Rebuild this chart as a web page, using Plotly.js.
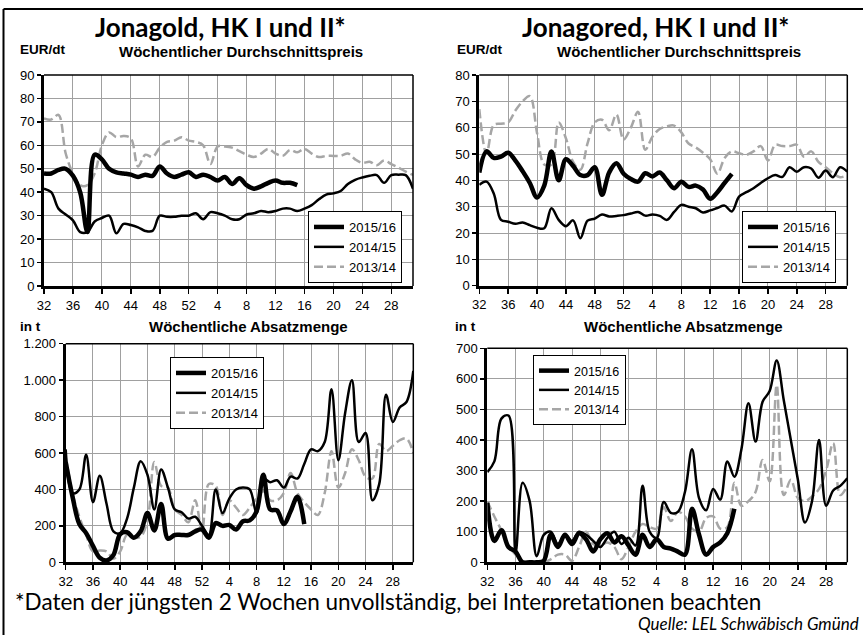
<!DOCTYPE html>
<html>
<head>
<meta charset="utf-8">
<script src="https://cdn.plot.ly/plotly-3.0.1.min.js"></script>
<style>html,body{margin:0;padding:0;background:#fff;}#chart{width:863px;height:635px;}</style>
</head>
<body>
<div id="chart"></div>
<script>
// Calendar weeks of the marketing season (x categories)
const weeks = [32,33,34,35,36,37,38,39,40,41,42,43,44,45,46,47,48,49,50,51,52,
               1,2,3,4,5,6,7,8,9,10,11,12,13,14,15,16,17,18,19,20,21,22,23,24,25,26,27,28,29,30,31];
const tickWeeks = ['32','36','40','44','48','52','4','8','12','16','20','24','28'];
const seasons = ['2015/16','2014/15','2013/14'];

// Jonagold – weekly average price (EUR/dt)
const jgPrice1516 = [48,48,49.5,50,47,40,23,56,54,50,48.5,48,47.5,46.5,47.5,47,51,48,46.5,47.5,48.5,46.5,47.5,46.5,45,46.5,43.5,46,43,41.5,42.5,44,45,44,44,43];
const jgPrice1415 = [41.5,40,33,30.5,28,23,23,27.5,29,30,22.5,26.5,26,25,23.5,23.5,30,29.5,29.5,30,30,31,28.5,31.5,31,30,28.5,28.5,30.5,31,32,31.5,32,33,33,32,33,34.5,37,39,39.5,40.5,43.5,45.3,46.3,47,47.3,44,47.3,47.5,47.3,41.5];
const jgPrice1314 = [71.5,71,73,56.5,48,43,43,48,60,65.5,63.5,64,63,51,56,55,59,61.5,62,63.5,62,61.5,60,52,59.5,59.5,59,57.5,56,55,56.5,58.5,56.5,55.5,58,57,58.5,56.5,55,55.5,55.5,55.5,56.5,54,52.5,53,51.5,53.5,52,50.5,48.8,47.4];

// Jonagored – weekly average price (EUR/dt)
const jrPrice1516 = [43,51,48.5,49,50.5,47.5,43.5,39,33.5,38,51,40,48,45.5,42,42,45,34.5,43,46.5,42.5,40.5,39.5,42.7,41.5,43,40,37,39.5,37.5,38,36.5,33,35.5,39,42.5];
const jrPrice1415 = [38.3,39.5,35,25,24.3,23.5,24,23,22,21.8,29.4,25,22.6,24.8,18,24.7,25.5,27,26.3,26.5,26.8,27.4,28,26.6,27,26.5,25,28,30.7,30,29.4,27.8,28.6,29.5,30.4,28.2,33.8,35.5,37,39,40.8,42,41.3,45,43.3,45,44.5,41,43.7,41.2,45,43.3];
const jrPrice1314 = [67,50,61,61.5,62,66.5,70,72,58,46,46,62,56,47,44,54,62,63,59,65,55.5,60,66,51.6,56.6,59.5,60.5,60.8,58.2,54,52.5,50.5,48,42.5,48.5,51,50.3,49.7,51,53,47.5,53.5,53,53,53.5,49,51,47,45,42.7,41.2,42];

// Jonagold – weekly sales volume (t)
const jgSales1516 = [550,360,210,160,90,25,10,40,155,165,135,170,270,175,320,130,150,150,150,170,180,135,215,200,205,180,225,230,280,480,290,285,210,280,360,210];
const jgSales1415 = [620,380,400,590,330,475,320,170,160,240,410,555,480,290,510,410,290,275,240,250,200,150,400,270,350,400,410,400,270,460,440,450,410,470,460,540,620,610,660,950,560,820,1000,660,710,340,430,920,770,850,880,1050];
const jgSales1314 = [580,380,250,150,60,65,60,20,60,150,135,140,230,550,420,410,290,260,220,340,170,430,420,260,340,300,260,300,350,390,340,340,380,490,380,330,290,260,380,610,410,490,620,560,470,460,650,610,640,670,680,600];

// Jonagored – weekly sales volume (t)
const jrSales1516 = [195,70,105,50,35,0,0,0,5,90,50,90,60,95,75,35,75,95,65,85,55,25,90,50,75,50,45,35,25,175,90,25,50,65,95,175];
const jrSales1415 = [295,330,470,480,30,260,200,20,90,100,60,90,70,100,90,70,50,80,100,60,80,55,250,100,80,197,162,165,230,370,210,170,240,205,330,280,370,520,395,525,560,660,530,400,270,130,200,400,185,235,250,275];
const jrSales1314 = [200,150,105,55,25,5,0,0,0,10,25,25,5,50,100,60,55,65,50,10,50,100,125,115,110,180,135,165,150,110,100,145,150,110,115,260,185,200,230,335,265,580,220,270,210,200,215,240,300,390,220,250];

const cats = weeks.map(String);
const ARIAL = 'Arial, "Liberation Sans", sans-serif';
const HUMAN = 'Lato, "Open Sans", sans-serif';

const styles = [
  {color:'#000000', width:4.5, dash:'solid'},
  {color:'#000000', width:2.5, dash:'solid'},
  {color:'#a6a6a6', width:2.5, dash:'9px,4px'}
];

function mk(vals, sIdx, ax, leg){
  return {
    type:'scatter', mode:'lines',
    x: cats.slice(0, vals.length), y: vals,
    name: seasons[sIdx],
    xaxis: 'x'+ax, yaxis: 'y'+ax,
    legend: leg, legendrank: sIdx+1,
    line: Object.assign({shape:'spline', smoothing:1}, styles[sIdx]),
    hoverinfo:'skip'
  };
}

const traces = [
  mk(jgPrice1314,2,'', 'legend'), mk(jgPrice1415,1,'', 'legend'), mk(jgPrice1516,0,'', 'legend'),
  mk(jrPrice1314,2,'2','legend2'), mk(jrPrice1415,1,'2','legend2'), mk(jrPrice1516,0,'2','legend2'),
  mk(jgSales1314,2,'3','legend3'), mk(jgSales1415,1,'3','legend3'), mk(jgSales1516,0,'3','legend3'),
  mk(jrSales1314,2,'4','legend4'), mk(jrSales1415,1,'4','legend4'), mk(jrSales1516,0,'4','legend4')
];

const W = 863, H = 635;
const px = v => v / W, py = v => 1 - v / H;

function xax(x0, x1, anchor, fs){
  return {
    domain:[px(x0), px(x1)], anchor: anchor,
    type:'category', categoryorder:'array', categoryarray: cats,
    range:[0, 51], tickmode:'array', tickvals: tickWeeks, ticktext: tickWeeks,
    ticks:'outside', ticklen:5, tickwidth:1.5, tickcolor:'#000',
    showgrid:true, gridcolor:'#a0a0a0', gridwidth:1,
    showline:true, linecolor:'#000', linewidth:3, zeroline:false,
    tickfont:{family:ARIAL, size:fs, color:'#000'}
  };
}
function yax(y0, y1, anchor, max, dtick, fs, ttext){
  const vals = [];
  for (let v = 0; v <= max; v += dtick) vals.push(v);
  return {
    domain:[py(y1), py(y0)], anchor: anchor,
    range:[0, max], tickmode:'array', tickvals: vals,
    ticktext: ttext ? ttext : vals.map(String),
    ticks:'outside', ticklen:4, tickwidth:1.5, tickcolor:'#000',
    showgrid:true, gridcolor:'#a0a0a0', gridwidth:1,
    showline:true, linecolor:'#000', linewidth:3, zeroline:false,
    tickfont:{family:ARIAL, size:fs, color:'#000'}
  };
}

const salesLeftText = ['0','200','400','600','800','1.000','1.200'];

function legendBox(x, y, fs){
  return {x:px(x), y:py(y), xanchor:'left', yanchor:'top', xref:'paper', yref:'paper',
          bgcolor:'#fff', bordercolor:'#000', borderwidth:1,
          font:{family:ARIAL, size:fs, color:'#000'}, tracegroupgap:0};
}

function frameShapes(ax){
  const xr = 'x'+ax+' domain', yr = 'y'+ax+' domain';
  return [
    {type:'line', xref:xr, yref:yr, x0:0, x1:1, y0:1, y1:1, line:{color:'#000', width:1.5}},
    {type:'line', xref:xr, yref:yr, x0:1, x1:1, y0:0, y1:1, line:{color:'#000', width:1.5}}
  ];
}

function ann(text, x, y, font, xanchor, yanchor){
  return {text:text, x:px(x), y:py(y), xref:'paper', yref:'paper', showarrow:false,
          xanchor:xanchor||'center', yanchor:yanchor||'middle', font:font};
}

const unitFont = {family:ARIAL, size:13.5, color:'#000', weight:'bold'};
const subFont = {family:ARIAL, size:15, color:'#000', weight:'bold'};
const titleFont = {family:HUMAN, size:26, color:'#000', weight:'bold'};

const layout = {
  width:W, height:H, margin:{l:0,r:0,t:0,b:0},
  paper_bgcolor:'#fff', plot_bgcolor:'#fff',
  hovermode:false,
  xaxis: xax(44, 413, 'y', 13),
  yaxis: yax(75, 286, 'x', 90, 10, 13),
  xaxis2: xax(479.3, 847.3, 'y2', 13),
  yaxis2: yax(75, 285.7, 'x2', 80, 10, 13),
  xaxis3: xax(65.7, 413.3, 'y3', 13),
  yaxis3: yax(343.7, 562.3, 'x3', 1200, 200, 13, salesLeftText),
  xaxis4: xax(487.3, 847.3, 'y4', 13),
  yaxis4: yax(348.3, 562.3, 'x4', 700, 100, 13),
  legend: legendBox(308, 211, 13),
  legend2: legendBox(742, 211, 13),
  legend3: legendBox(170, 357, 13),
  legend4: legendBox(533, 355, 12.5),
  shapes: [].concat(frameShapes(''), frameShapes('2'), frameShapes('3'), frameShapes('4'), [
    {type:'line', xref:'paper', yref:'paper', x0:px(3.5), x1:px(3.5), y0:0, y1:py(9), line:{color:'#000', width:2}},
    {type:'line', xref:'paper', yref:'paper', x0:px(3.5), x1:1, y0:py(9), y1:py(9), line:{color:'#000', width:2}}
  ]),
  annotations: [
    ann('Jonagold, HK I und II*', 220, 27, titleFont),
    ann('Jonagored, HK I und II*', 655, 27, titleFont),
    ann('EUR/dt', 18, 50, unitFont, 'left'),
    ann('Wöchentlicher Durchschnittspreis', 241, 51, subFont),
    ann('EUR/dt', 455, 50, unitFont, 'left'),
    ann('Wöchentlicher Durchschnittspreis', 679, 51, subFont),
    ann('in t', 18, 326, unitFont, 'left'),
    ann('Wöchentliche Absatzmenge', 248, 327, subFont),
    ann('in t', 453, 326, unitFont, 'left'),
    ann('Wöchentliche Absatzmenge', 683, 327, subFont),
    ann('*Daten der jüngsten 2 Wochen unvollständig, bei Interpretationen beachten', 13, 601,
        {family:HUMAN, size:22.5, color:'#000'}, 'left'),
    ann('<i>Quelle: LEL Schwäbisch Gmünd</i>', 861, 636, {family:HUMAN, size:17, color:'#000'}, 'right', 'bottom')
  ]
};

Plotly.newPlot('chart', traces, layout, {staticPlot:true, displayModeBar:false});
</script>
</body>
</html>
